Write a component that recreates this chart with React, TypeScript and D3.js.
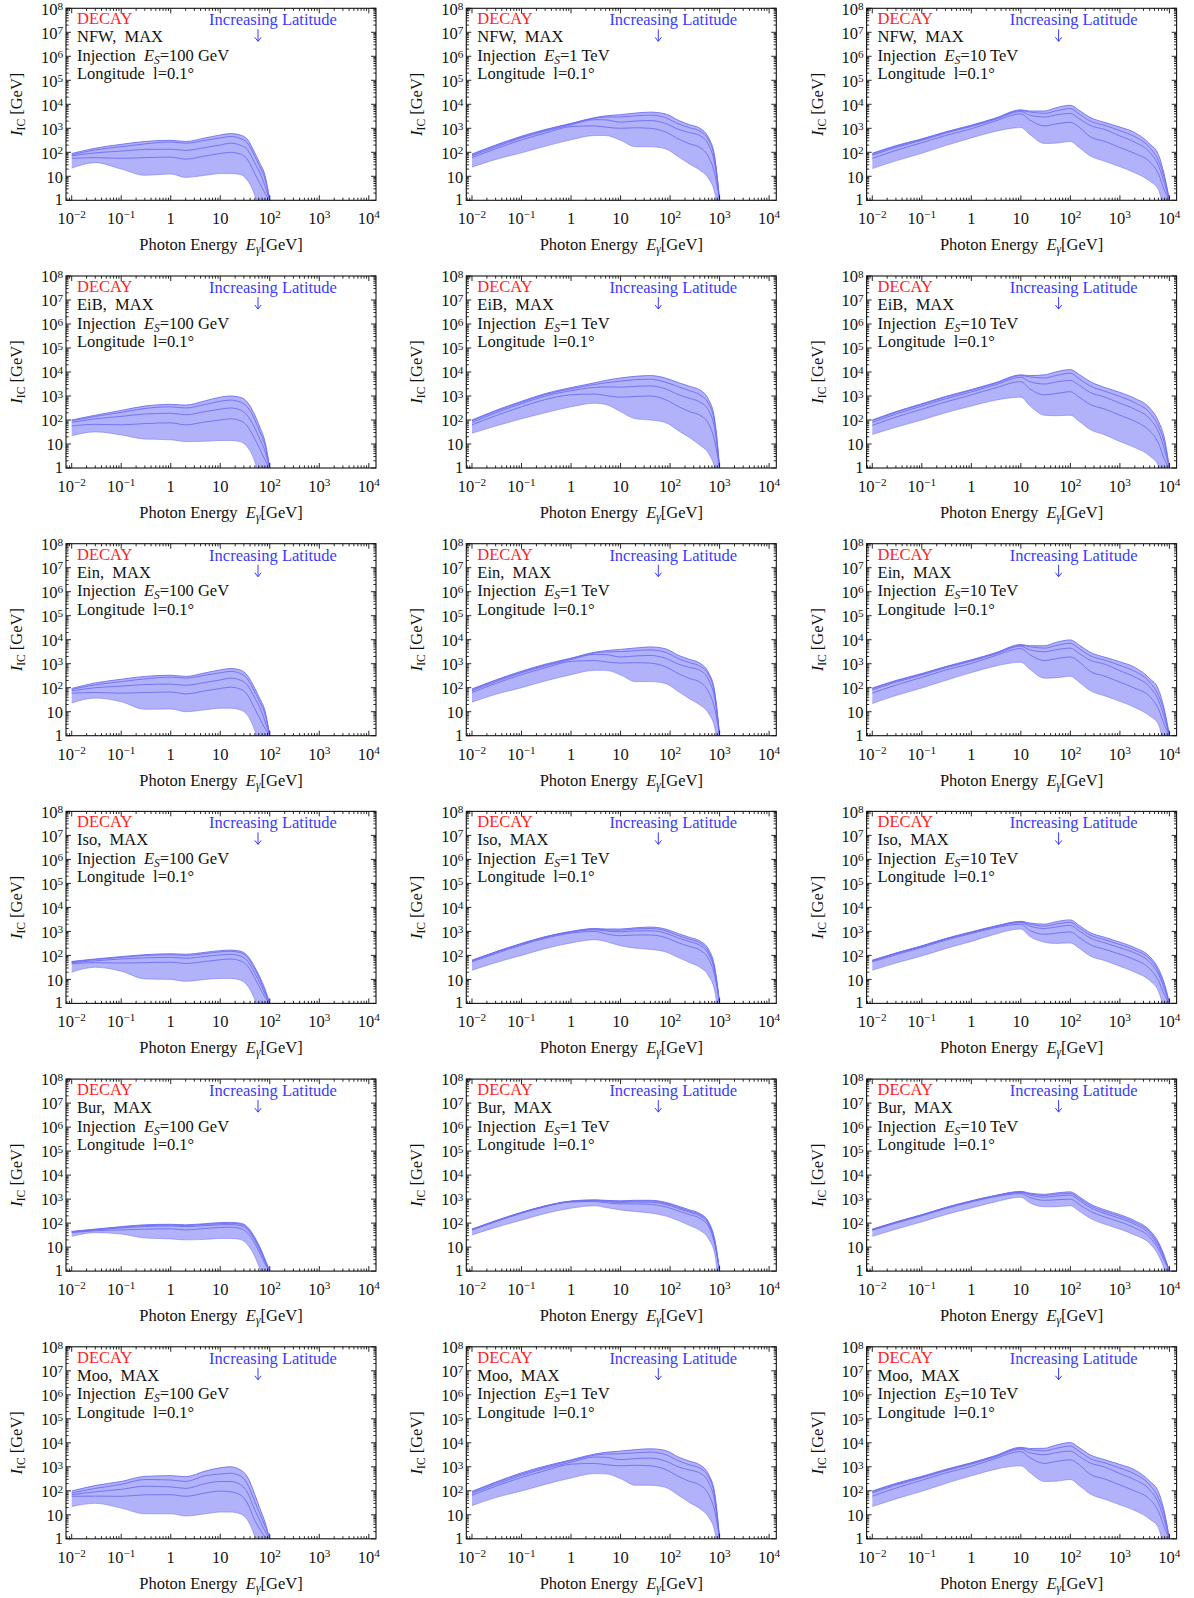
import React from 'react';
import * as d3 from 'd3';

// ---------- axes ----------
const X_DOMAIN: [number, number] = [Math.pow(10, -2.115), Math.pow(10, 4.145)];
const Y_DOMAIN: [number, number] = [1, 1e8];
const X_TICK_EXPS = [-2, -1, 0, 1, 2, 3, 4];
const Y_TICK_EXPS = [0, 1, 2, 3, 4, 5, 6, 7, 8];

// ---------- panel labels ----------
const PROFILES = ['NFW', 'EiB', 'Ein', 'Iso', 'Bur', 'Moo'];
const INJECTIONS = ['100 GeV', '1 TeV', '10 TeV'];

// ---------- photon energy grids (GeV) per injection energy ----------
const E_100GEV = [0.01, 0.03, 0.1, 0.3, 1, 2, 5, 10, 16, 25, 35, 50, 63, 80, 100];
const E_1TEV = [0.01, 0.03, 0.1, 0.3, 1, 3, 5, 10, 20, 40, 80, 150, 250, 400, 600, 800, 1000];
const E_10TEV = [0.01, 0.03, 0.1, 0.3, 1, 3, 10, 15, 30, 50, 100, 150, 250, 500, 1000, 2000, 4000, 6000, 8000, 10000];

// ---------- I_IC [GeV] curves, from lowest latitude (top) to highest (bottom) ----------
const NFW_100GEV = [
  [89, 148, 214, 282, 316, 282, 398, 525, 603, 525, 355, 93, 35, 11, 1],
  [79, 126, 170, 224, 269, 240, 316, 398, 457, 380, 251, 66, 25, 8, 1],
  [71, 95, 112, 132, 135, 120, 158, 200, 240, 200, 132, 35, 14, 4, 1],
  [56, 60, 56, 60, 63, 52, 71, 89, 100, 85, 52, 12.6, 5, 2, 1],
  [22, 37, 20, 11, 12.5, 9, 11, 13, 13, 12, 7, 1.6, 0.3, 0.1, 0.1],
];
const NFW_1TEV = [
  [85, 200, 470, 890, 1600, 2800, 3300, 3700, 4300, 4700, 4000, 2100, 1400, 1000, 400, 63, 1],
  [79, 190, 430, 830, 1550, 2600, 2950, 3000, 3300, 3550, 2800, 1500, 1050, 760, 320, 50, 1],
  [71, 166, 400, 760, 1400, 2300, 2250, 1800, 2000, 2100, 1600, 890, 660, 500, 200, 32, 1],
  [60, 140, 330, 630, 1180, 1260, 1120, 1000, 1050, 1000, 710, 355, 224, 158, 63, 12.6, 1],
  [24, 50, 95, 178, 331, 500, 500, 316, 170, 170, 141, 63, 32, 18, 8, 2, 0.1],
];
const NFW_10TEV = [
  [91, 190, 363, 708, 1350, 2630, 5890, 5250, 5250, 7080, 9120, 5620, 2820, 1740, 1120, 660, 224, 80, 10, 1],
  [85, 178, 347, 676, 1290, 2510, 5500, 4790, 4170, 5250, 6610, 3980, 2000, 1320, 794, 447, 158, 45, 8, 1],
  [76, 158, 316, 630, 1200, 2340, 5010, 3550, 2950, 3550, 4170, 2510, 1320, 890, 479, 263, 100, 28, 5, 1],
  [56, 120, 251, 501, 955, 2000, 3980, 2240, 1260, 1510, 1780, 1120, 447, 282, 158, 89, 40, 12.6, 2.5, 1],
  [21, 44, 91, 190, 398, 741, 1070, 562, 234, 240, 282, 158, 71, 42, 25, 14, 6.3, 2.8, 0.3, 0.1],
];

const EIB_100GEV = [
  [100, 158, 251, 380, 447, 417, 631, 891, 1000, 891, 562, 158, 50, 12.6, 1],
  [93, 141, 209, 302, 355, 316, 447, 603, 676, 562, 355, 100, 32, 8.9, 1],
  [79, 112, 141, 178, 190, 166, 224, 282, 316, 263, 158, 45, 16, 5, 1],
  [56, 66, 63, 71, 76, 63, 83, 100, 112, 95, 56, 16, 6.3, 2.2, 1],
  [22, 32, 24, 16, 15, 12.6, 13, 14, 14, 12.6, 7.6, 1.8, 0.3, 0.1, 0.1],
];
const EIB_1TEV = [
  [100, 251, 603, 1260, 2240, 3550, 4470, 5620, 6610, 7080, 5620, 3550, 2510, 1780, 708, 100, 1],
  [93, 229, 550, 1150, 2000, 3020, 3550, 4170, 4790, 5010, 3800, 2400, 1660, 1120, 479, 71, 1],
  [79, 200, 479, 1000, 1660, 2290, 2400, 2340, 2510, 2630, 2000, 1120, 794, 562, 251, 40, 1],
  [63, 151, 355, 708, 1120, 1200, 1050, 891, 955, 1000, 708, 355, 224, 158, 71, 12.6, 1],
  [28, 56, 112, 200, 355, 501, 447, 224, 112, 100, 79, 35, 18, 8.9, 4, 1, 0.1],
];
const EIB_10TEV = [
  [100, 224, 479, 955, 1860, 3550, 7590, 7080, 7590, 10000, 12600, 7940, 3980, 2240, 1410, 794, 316, 89, 16, 1],
  [93, 209, 447, 891, 1740, 3310, 7080, 6310, 5620, 7080, 8910, 5250, 2630, 1580, 955, 525, 200, 56, 10, 1],
  [79, 178, 380, 759, 1480, 2880, 6030, 3980, 3160, 3800, 4470, 2820, 1410, 891, 501, 282, 112, 32, 5.6, 1],
  [60, 132, 282, 562, 1120, 2140, 3980, 2000, 1120, 1260, 1510, 891, 447, 282, 158, 89, 35, 11, 2.2, 1],
  [25, 50, 100, 200, 380, 661, 891, 398, 158, 151, 158, 89, 40, 24, 12.6, 7.1, 3.2, 1.26, 0.16, 0.1],
];

const EIN_100GEV = [
  [93, 158, 224, 295, 331, 295, 417, 550, 631, 550, 331, 93, 35, 11, 1],
  [85, 132, 178, 234, 275, 251, 331, 417, 479, 398, 240, 66, 26, 8, 1],
  [74, 100, 117, 135, 141, 126, 166, 209, 251, 209, 132, 37, 15, 4, 1],
  [59, 63, 59, 63, 66, 55, 74, 93, 105, 89, 52, 13, 5.2, 2, 1],
  [23, 37, 26, 12.6, 13, 10, 12, 14, 14, 12, 7.4, 1.6, 0.3, 0.1, 0.1],
];
const EIN_1TEV = [
  [89, 209, 490, 950, 1700, 3000, 3500, 3950, 4500, 5000, 4200, 2200, 1500, 1050, 420, 66, 1],
  [83, 200, 450, 880, 1650, 2800, 3100, 3200, 3500, 3750, 3000, 1600, 1100, 800, 340, 53, 1],
  [75, 178, 420, 800, 1500, 2450, 2400, 1900, 2100, 2200, 1700, 950, 700, 530, 210, 34, 1],
  [63, 150, 350, 670, 1250, 1350, 1200, 1060, 1100, 1060, 750, 380, 240, 170, 67, 13, 1],
  [25, 53, 100, 190, 350, 530, 530, 340, 180, 180, 150, 67, 34, 19, 8.5, 2.1, 0.1],
];
const EIN_10TEV = [
  [97, 200, 390, 760, 1450, 2800, 6300, 5600, 5600, 7600, 9800, 6000, 3000, 1850, 1200, 700, 240, 85, 11, 1],
  [91, 190, 370, 720, 1380, 2700, 5900, 5100, 4450, 5600, 7100, 4250, 2150, 1400, 850, 480, 170, 48, 8.5, 1],
  [81, 170, 340, 670, 1280, 2500, 5350, 3800, 3150, 3800, 4450, 2700, 1400, 950, 510, 280, 107, 30, 5.3, 1],
  [60, 128, 270, 540, 1020, 2150, 4250, 2400, 1350, 1600, 1900, 1200, 480, 300, 170, 95, 43, 13, 2.7, 1],
  [22, 47, 97, 200, 425, 790, 1150, 600, 250, 256, 300, 170, 76, 45, 27, 15, 6.7, 3, 0.3, 0.1],
];

const ISO_100GEV = [
  [56, 71, 89, 107, 117, 112, 135, 158, 166, 151, 100, 32, 12.6, 4, 1],
  [54, 68, 83, 100, 107, 100, 120, 141, 148, 132, 85, 26, 10, 3.2, 1],
  [50, 60, 71, 79, 83, 76, 91, 105, 110, 95, 60, 17.8, 7.1, 2.5, 1],
  [45, 50, 48, 50, 52, 46, 56, 66, 71, 60, 38, 11, 4.5, 1.8, 1],
  [20, 32, 22, 10.5, 10, 8.3, 10, 11, 11, 9.5, 5.6, 1.4, 0.3, 0.1, 0.1],
];
const ISO_1TEV = [
  [63, 141, 316, 603, 1000, 1320, 1260, 1260, 1410, 1510, 1260, 794, 562, 398, 178, 32, 1],
  [62, 138, 309, 589, 977, 1260, 1170, 1120, 1260, 1320, 1070, 661, 468, 331, 141, 26, 1],
  [59, 132, 295, 562, 933, 1170, 1050, 955, 1050, 1070, 851, 525, 372, 263, 112, 21, 1],
  [54, 120, 269, 513, 851, 1000, 794, 661, 708, 708, 562, 331, 234, 166, 71, 14, 1],
  [24, 50, 100, 191, 331, 447, 380, 251, 200, 178, 141, 79, 50, 32, 14, 3.2, 0.1],
];
const ISO_10TEV = [
  [63, 126, 251, 501, 955, 1660, 2630, 2240, 2000, 2510, 3020, 1780, 891, 562, 355, 209, 89, 28, 6.3, 1],
  [62, 123, 245, 490, 933, 1620, 2510, 2000, 1660, 2000, 2400, 1410, 708, 447, 282, 166, 71, 22, 5, 1],
  [59, 117, 234, 468, 891, 1550, 2340, 1660, 1320, 1510, 1780, 1050, 537, 331, 209, 126, 52, 16.6, 3.8, 1],
  [54, 107, 214, 427, 813, 1410, 2000, 1120, 759, 832, 955, 562, 282, 178, 112, 66, 28, 8.9, 2.2, 1],
  [24, 48, 95, 191, 380, 759, 1260, 631, 355, 316, 331, 200, 95, 60, 35, 20, 8.9, 3.2, 0.5, 0.1],
];

const BUR_100GEV = [
  [45, 56, 71, 85, 89, 85, 95, 105, 107, 100, 71, 25, 10, 3.2, 1],
  [44, 55, 68, 79, 83, 79, 89, 95, 98, 91, 63, 22, 8.9, 2.8, 1],
  [42, 52, 63, 72, 76, 71, 79, 85, 87, 79, 55, 19, 7.6, 2.5, 1],
  [40, 48, 52, 56, 58, 52, 60, 66, 68, 60, 40, 14, 5.6, 2, 1],
  [28, 40, 35, 24, 22, 20, 21, 23, 23, 21, 13, 4, 1.26, 0.3, 0.1],
];
const BUR_1TEV = [
  [56, 126, 282, 525, 832, 933, 891, 851, 891, 891, 741, 501, 355, 251, 112, 20, 1],
  [55, 123, 275, 513, 813, 891, 851, 794, 832, 832, 676, 447, 316, 224, 100, 18, 1],
  [54, 120, 269, 501, 794, 851, 794, 724, 759, 741, 603, 398, 282, 200, 89, 16, 1],
  [51, 115, 257, 479, 759, 794, 708, 631, 631, 603, 479, 316, 224, 158, 71, 12.6, 1],
  [32, 66, 132, 251, 417, 525, 447, 355, 302, 263, 200, 126, 79, 50, 22, 5, 0.1],
];
const BUR_10TEV = [
  [56, 112, 224, 447, 851, 1410, 2090, 1780, 1580, 1780, 2000, 1260, 631, 355, 224, 126, 50, 16, 4, 1],
  [55, 110, 219, 437, 832, 1380, 2000, 1660, 1410, 1580, 1740, 1070, 537, 302, 191, 107, 43, 13.5, 3.5, 1],
  [54, 107, 214, 427, 813, 1350, 1910, 1480, 1200, 1320, 1450, 891, 447, 251, 158, 89, 35, 11, 3.2, 1],
  [50, 100, 200, 398, 759, 1260, 1700, 1170, 891, 933, 1000, 603, 316, 178, 112, 63, 26, 8.3, 2.5, 1],
  [28, 56, 112, 224, 427, 759, 1200, 708, 479, 479, 525, 316, 158, 89, 56, 32, 14, 4.5, 1, 0.1],
];

const MOO_100GEV = [
  [98, 166, 245, 398, 427, 389, 661, 912, 1000, 759, 398, 69, 18.6, 5, 1],
  [81, 126, 186, 295, 282, 245, 427, 501, 537, 427, 200, 35, 11, 3.5, 1],
  [69, 91, 115, 155, 145, 126, 200, 245, 245, 186, 89, 15.5, 5.8, 2.1, 1],
  [59, 60, 59, 68, 69, 59, 81, 98, 91, 69, 32, 5.8, 2.5, 1.26, 1],
  [22, 30, 19, 11, 11, 8.9, 11, 13, 13, 11, 6.3, 1.26, 0.3, 0.1, 0.1],
];
const MOO_1TEV = [
  [95, 230, 560, 1070, 1950, 3400, 4000, 4500, 5200, 5600, 4800, 2500, 1700, 1200, 480, 76, 1],
  [88, 215, 500, 970, 1800, 3050, 3400, 3500, 3800, 4100, 3250, 1750, 1200, 880, 370, 58, 1],
  [78, 185, 440, 850, 1550, 2550, 2500, 2000, 2200, 2300, 1750, 980, 730, 550, 220, 35, 1],
  [65, 155, 360, 690, 1290, 1380, 1230, 1100, 1150, 1100, 780, 390, 245, 175, 70, 14, 1],
  [24, 52, 98, 185, 340, 520, 510, 320, 170, 170, 140, 63, 32, 18, 8, 2, 0.1],
];
const MOO_10TEV = [
  [98, 205, 400, 780, 1480, 2900, 6500, 5800, 5900, 7900, 10200, 6300, 3150, 1950, 1250, 740, 250, 90, 12, 1],
  [92, 192, 375, 730, 1400, 2750, 6000, 5200, 4600, 5800, 7300, 4400, 2200, 1450, 880, 500, 175, 50, 9, 1],
  [82, 172, 345, 680, 1300, 2550, 5400, 3850, 3200, 3850, 4500, 2750, 1450, 970, 520, 290, 110, 31, 5.5, 1],
  [60, 130, 275, 550, 1040, 2200, 4300, 2450, 1380, 1650, 1950, 1230, 490, 310, 175, 98, 44, 14, 2.8, 1],
  [22, 46, 95, 200, 420, 780, 1100, 590, 245, 250, 295, 165, 74, 44, 26, 15, 6.6, 2.9, 0.3, 0.1],
];

const ENERGY_GRIDS = [E_100GEV, E_1TEV, E_10TEV];
const PANEL_DATA = [
  [NFW_100GEV, NFW_1TEV, NFW_10TEV],
  [EIB_100GEV, EIB_1TEV, EIB_10TEV],
  [EIN_100GEV, EIN_1TEV, EIN_10TEV],
  [ISO_100GEV, ISO_1TEV, ISO_10TEV],
  [BUR_100GEV, BUR_1TEV, BUR_10TEV],
  [MOO_100GEV, MOO_1TEV, MOO_10TEV],
];

// ---------- layout ----------
const COL_X0 = 66;
const COL_STEP = 400.3;
const ROW_Y0 = 8.3;
const ROW_STEP = 267.7;
const W = 310;
const H = 192;

const FONT = '"Liberation Serif", "Times New Roman", Times, serif';
const FILL = '#b2b2fa';
const LINE = '#6e6ef2';
const BLUE_TEXT = '#3a3aff';
const RED_TEXT = '#ff1e1e';

function expLabel(e: number, fs: number, supDy: number) {
  if (e === 0) return <tspan>1</tspan>;
  if (e === 1) return <tspan>10</tspan>;
  const s = e < 0 ? '\u2212' + String(-e) : String(e);
  return (
    <>
      <tspan>10</tspan>
      <tspan fontSize={fs * 0.68} dy={supDy}>{s}</tspan>
    </>
  );
}

function Panel({ r, c }: { r: number; c: number }) {
  const left = COL_X0 + c * COL_STEP;
  const top = ROW_Y0 + r * ROW_STEP;
  const energies = ENERGY_GRIDS[c];
  const curves = PANEL_DATA[r][c];
  const x = d3.scaleLog().domain(X_DOMAIN).range([0, W]);
  const y = d3.scaleLog().domain(Y_DOMAIN).range([H, 0]);
  const yv = (v: number) => y(Math.max(v, 1e-3));
  const bottom = curves[curves.length - 1];

  const area = d3
    .area<number>()
    .x((_, i) => x(energies[i]))
    .y1((v) => yv(v))
    .y0((_, i) => yv(bottom[i]))
    .curve(d3.curveMonotoneX);
  const line = d3
    .line<number>()
    .x((_, i) => x(energies[i]))
    .y((v) => yv(v))
    .curve(d3.curveMonotoneX);

  const yTicks: { v: number; major: boolean }[] = [];
  for (let k = 0; k <= 8; k++) {
    for (let m = 1; m <= 9; m++) {
      const v = m * Math.pow(10, k);
      if (v <= 1e8 * 1.0001) yTicks.push({ v, major: m === 1 });
    }
  }
  const xTicks: { v: number; major: boolean }[] = [];
  for (let k = -3; k <= 4; k++) {
    for (let m = 1; m <= 9; m++) {
      const v = m * Math.pow(10, k);
      if (v >= X_DOMAIN[0] && v <= X_DOMAIN[1]) xTicks.push({ v, major: m === 1 });
    }
  }
  const MAJ = 5;
  const MIN = 2.6;
  const clipId = `clip-${r}-${c}`;
  const tickFs = 16.5;
  const txtFs = 16.5;

  return (
    <g transform={`translate(${left},${top})`}>
      <defs>
        <clipPath id={clipId}>
          <rect x={0} y={0} width={W} height={H} />
        </clipPath>
      </defs>
      <g clipPath={`url(#${clipId})`}>
        <path d={area(curves[0]) || ''} fill={FILL} stroke="none" />
        {curves.map((cv, i) => (
          <path
            key={i}
            d={line(cv) || ''}
            fill="none"
            stroke={LINE}
            strokeOpacity={i === curves.length - 1 ? 0.5 : 0.9}
            strokeWidth={1}
          />
        ))}
      </g>
      {/* ticks */}
      <g stroke="#111" strokeWidth={0.9}>
        {yTicks.map((t, i) => {
          const yy = y(t.v);
          const L = t.major ? MAJ : MIN;
          return (
            <g key={'y' + i}>
              <line x1={0} x2={L} y1={yy} y2={yy} />
              <line x1={W} x2={W - L} y1={yy} y2={yy} />
            </g>
          );
        })}
        {xTicks.map((t, i) => {
          const xx = x(t.v);
          const L = t.major ? MAJ : MIN;
          return (
            <g key={'x' + i}>
              <line x1={xx} x2={xx} y1={H} y2={H - L} />
              <line x1={xx} x2={xx} y1={0} y2={L} />
            </g>
          );
        })}
      </g>
      <rect x={0} y={0} width={W} height={H} fill="none" stroke="#111" strokeWidth={1.1} />
      {/* tick labels */}
      {Y_TICK_EXPS.map((e) => (
        <text
          key={'yl' + e}
          x={-3}
          y={y(Math.pow(10, e)) + (e === 0 ? 5 : 6.3)}
          textAnchor="end"
          fontSize={tickFs}
          fill="#111"
        >
          {expLabel(e, tickFs, -4.5)}
        </text>
      ))}
      {X_TICK_EXPS.map((e) => (
        <text key={'xl' + e} x={x(Math.pow(10, e))} y={H + 24} textAnchor="middle" fontSize={tickFs} fill="#111">
          {expLabel(e, tickFs, -6)}
        </text>
      ))}
      {/* axis titles */}
      <text x={W / 2} y={H + 50} textAnchor="middle" fontSize={txtFs} fill="#111" style={{ whiteSpace: 'pre' }}>
        {'Photon Energy  '}
        <tspan fontStyle="italic">E</tspan>
        <tspan fontStyle="italic" fontSize={11.5} dy={3}>γ</tspan>
        <tspan dy={-3}>[GeV]</tspan>
      </text>
      <text
        transform={`translate(${-44},${H / 2}) rotate(-90)`}
        textAnchor="middle"
        fontSize={txtFs}
        fill="#111"
        style={{ whiteSpace: 'pre' }}
      >
        <tspan fontStyle="italic">I</tspan>
        <tspan fontSize={11.5} dy={3}>IC</tspan>
        <tspan dy={-3}>{' [GeV]'}</tspan>
      </text>
      {/* in-panel annotations */}
      <text x={11} y={16} fontSize={txtFs} fill={RED_TEXT}>DECAY</text>
      <text x={11} y={34} fontSize={txtFs} fill="#111" style={{ whiteSpace: 'pre' }}>
        {PROFILES[r] + ',  MAX'}
      </text>
      <text x={11} y={52.5} fontSize={txtFs} fill="#111" style={{ whiteSpace: 'pre' }}>
        {'Injection  '}
        <tspan fontStyle="italic">E</tspan>
        <tspan fontStyle="italic" fontSize={11.5} dy={3}>S</tspan>
        <tspan dy={-3}>{'=' + INJECTIONS[c]}</tspan>
      </text>
      <text x={11} y={71} fontSize={txtFs} fill="#111" style={{ whiteSpace: 'pre' }}>
        {'Longitude  l=0.1\u00b0'}
      </text>
      <text x={207} y={17} textAnchor="middle" fontSize={txtFs} fill={BLUE_TEXT}>
        Increasing Latitude
      </text>
      <g stroke={BLUE_TEXT} strokeWidth={1} fill="none">
        <line x1={192} x2={192} y1={21} y2={33} />
        <path d="M188.8,29 L192,33 L195.2,29" />
      </g>
    </g>
  );
}

export default function App() {
  return (
    <svg
      width={1194}
      height={1598}
      style={{ position: 'absolute', left: 0, top: 0, background: '#fff' }}
      fontFamily={FONT}
    >
      <rect x={0} y={0} width={1194} height={1598} fill="#fff" />
      {PROFILES.map((_, r) => INJECTIONS.map((__, c) => <Panel key={`${r}-${c}`} r={r} c={c} />))}
    </svg>
  );
}
